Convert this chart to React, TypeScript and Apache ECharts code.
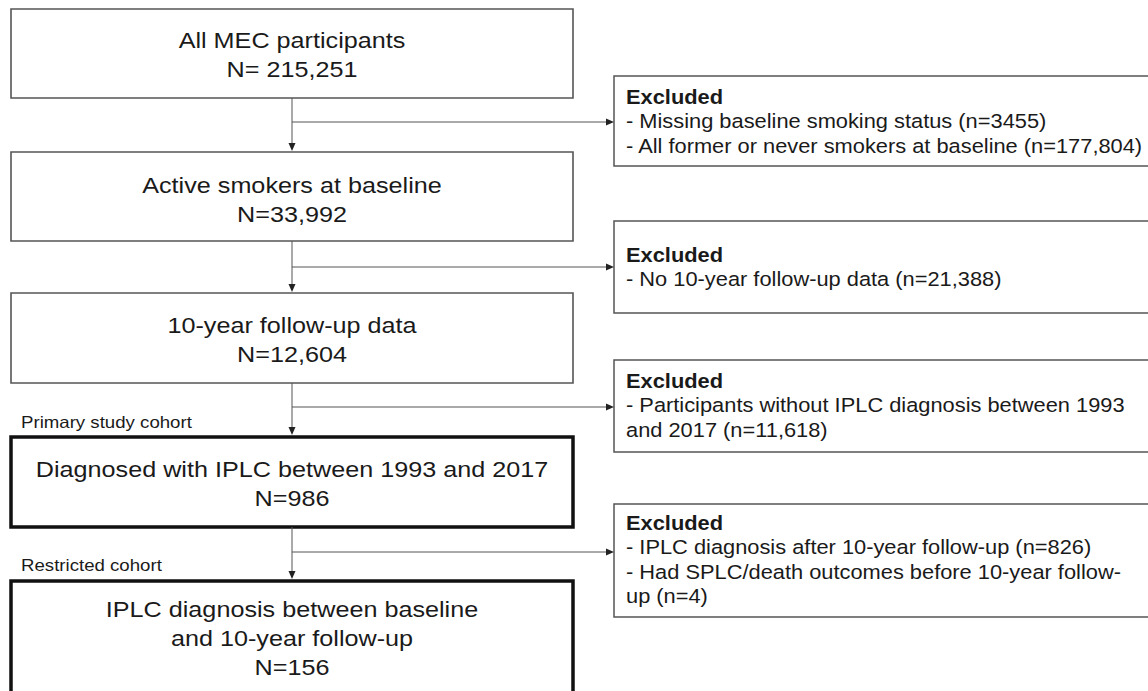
import React, { useEffect, useRef } from "react";
import * as echarts from "echarts";

// ---- content ----
const mainTexts: string[][] = [
  ["All MEC participants", "N= 215,251"],
  ["Active smokers at baseline", "N=33,992"],
  ["10-year follow-up data", "N=12,604"],
  ["Diagnosed with IPLC between 1993 and 2017", "N=986"],
  ["IPLC diagnosis between baseline", "and 10-year follow-up", "N=156"],
];
const excludedTitle = "Excluded";
const excludedLines: string[][] = [
  ["- Missing baseline smoking status (n=3455)", "- All former or never smokers at baseline (n=177,804)"],
  ["- No 10-year follow-up data (n=21,388)"],
  ["- Participants without IPLC diagnosis between 1993", "and 2017 (n=11,618)"],
  ["- IPLC diagnosis after 10-year follow-up (n=826)", "- Had SPLC/death outcomes before 10-year follow-", "up (n=4)"],
];
const cohortLabels: string[] = ["", "", "", "Primary study cohort", "Restricted cohort"];

// ---- layout ----
const mainLeft = 11;
const mainRight = 573;
const mainTop = [9, 152, 293, 437, 581];
const mainBottom = [98, 241, 383, 527, 705];
const mainThick = [false, false, false, true, true];
const mainFirstLineY = [40, 185, 325, 469, 609];
const mainLineH = 29;
const exclLeft = 614;
const exclRight = 1170;
const exclTop = [76, 221, 360, 504];
const exclBottom = [166, 313, 452, 617];
const exclFirstLineY = [97, 255, 381, 523];
const exclLineH = 24.3;
const branchY = [122, 267, 407, 552];
const labelY = [0, 0, 0, 422, 565];

const FONT = "'Liberation Sans', Arial, Helvetica, sans-serif";
const MAIN_SIZE = 22.5;
const MAIN_SX = 1.12;
const EXCL_SIZE = 19.5;
const EXCL_SX = 1.12;
const LABEL_SIZE = 16.5;
const LABEL_SX = 1.13;

export default function App() {
  const ref = useRef<HTMLDivElement>(null);
  useEffect(() => {
    if (!ref.current) return;
    const chart = echarts.init(ref.current, undefined, { renderer: "svg" });
    const cx = (mainLeft + mainRight) / 2;
    const g: any[] = [];
    const lineColor = "#555";

    // main boxes
    mainTexts.forEach((lines, i) => {
      const thick = mainThick[i];
      const lw = thick ? 3.5 : 1.6;
      g.push({
        type: "rect",
        shape: { x: mainLeft, y: mainTop[i], width: mainRight - mainLeft, height: mainBottom[i] - mainTop[i] },
        style: { fill: "#fff", stroke: thick ? "#111" : "#555", lineWidth: lw },
        z: 1,
      });
      lines.forEach((t, j) => {
        g.push({
          type: "text",
          x: cx,
          y: mainFirstLineY[i] + j * mainLineH,
          scaleX: MAIN_SX,
          style: {
            text: t,
            x: 0,
            y: 0,
            align: "center",
            verticalAlign: "middle",
            font: `${MAIN_SIZE}px ${FONT}`,
            fill: "#1a1a1a",
          },
          z: 3,
        });
      });
      if (cohortLabels[i]) {
        g.push({
          type: "text",
          x: 21,
          y: labelY[i],
          scaleX: LABEL_SX,
          style: {
            text: cohortLabels[i],
            x: 0,
            y: 0,
            align: "left",
            verticalAlign: "middle",
            font: `${LABEL_SIZE}px ${FONT}`,
            fill: "#1a1a1a",
          },
          z: 3,
        });
      }
      // vertical connector + arrow
      if (i < mainTexts.length - 1) {
        const y0 = mainBottom[i];
        const y1 = mainTop[i + 1] - (mainThick[i + 1] ? 2 : 1);
        g.push({
          type: "line",
          shape: { x1: cx, y1: y0, x2: cx, y2: y1 - 6 },
          style: { stroke: lineColor, lineWidth: 1 },
          z: 2,
        });
        g.push({
          type: "polygon",
          shape: { points: [[cx - 3.5, y1 - 8], [cx + 3.5, y1 - 8], [cx, y1]] },
          style: { fill: "#222" },
          z: 2,
        });
      }
    });

    // excluded boxes
    excludedLines.forEach((lines, i) => {
      g.push({
        type: "rect",
        shape: { x: exclLeft, y: exclTop[i], width: exclRight - exclLeft, height: exclBottom[i] - exclTop[i] },
        style: { fill: "#fff", stroke: "#555", lineWidth: 1.5 },
        z: 1,
      });
      g.push({
        type: "text",
        x: exclLeft + 12,
        y: exclFirstLineY[i],
        scaleX: EXCL_SX,
        style: {
          text: excludedTitle,
          x: 0,
          y: 0,
          align: "left",
          verticalAlign: "middle",
          font: `bold ${EXCL_SIZE}px ${FONT}`,
          fill: "#1a1a1a",
        },
        z: 3,
      });
      lines.forEach((t, j) => {
        g.push({
          type: "text",
          x: exclLeft + 12,
          y: exclFirstLineY[i] + (j + 1) * exclLineH,
          scaleX: EXCL_SX,
          style: {
            text: t,
            x: 0,
            y: 0,
            align: "left",
            verticalAlign: "middle",
            font: `${EXCL_SIZE}px ${FONT}`,
            fill: "#1a1a1a",
          },
          z: 3,
        });
      });
      // horizontal branch + arrow
      const by = branchY[i];
      g.push({
        type: "line",
        shape: { x1: cx, y1: by, x2: exclLeft - 7, y2: by },
        style: { stroke: lineColor, lineWidth: 1 },
        z: 2,
      });
      g.push({
        type: "polygon",
        shape: { points: [[exclLeft - 8, by - 3.5], [exclLeft - 8, by + 3.5], [exclLeft, by]] },
        style: { fill: "#222" },
        z: 2,
      });
    });

    chart.setOption({
      animation: false,
      backgroundColor: "#fff",
      graphic: { elements: g },
    });
    return () => chart.dispose();
  }, []);
  return (
    <div
      ref={ref}
      style={{ position: "fixed", left: 0, top: 0, width: 1148, height: 691, background: "#fff" }}
    />
  );
}
